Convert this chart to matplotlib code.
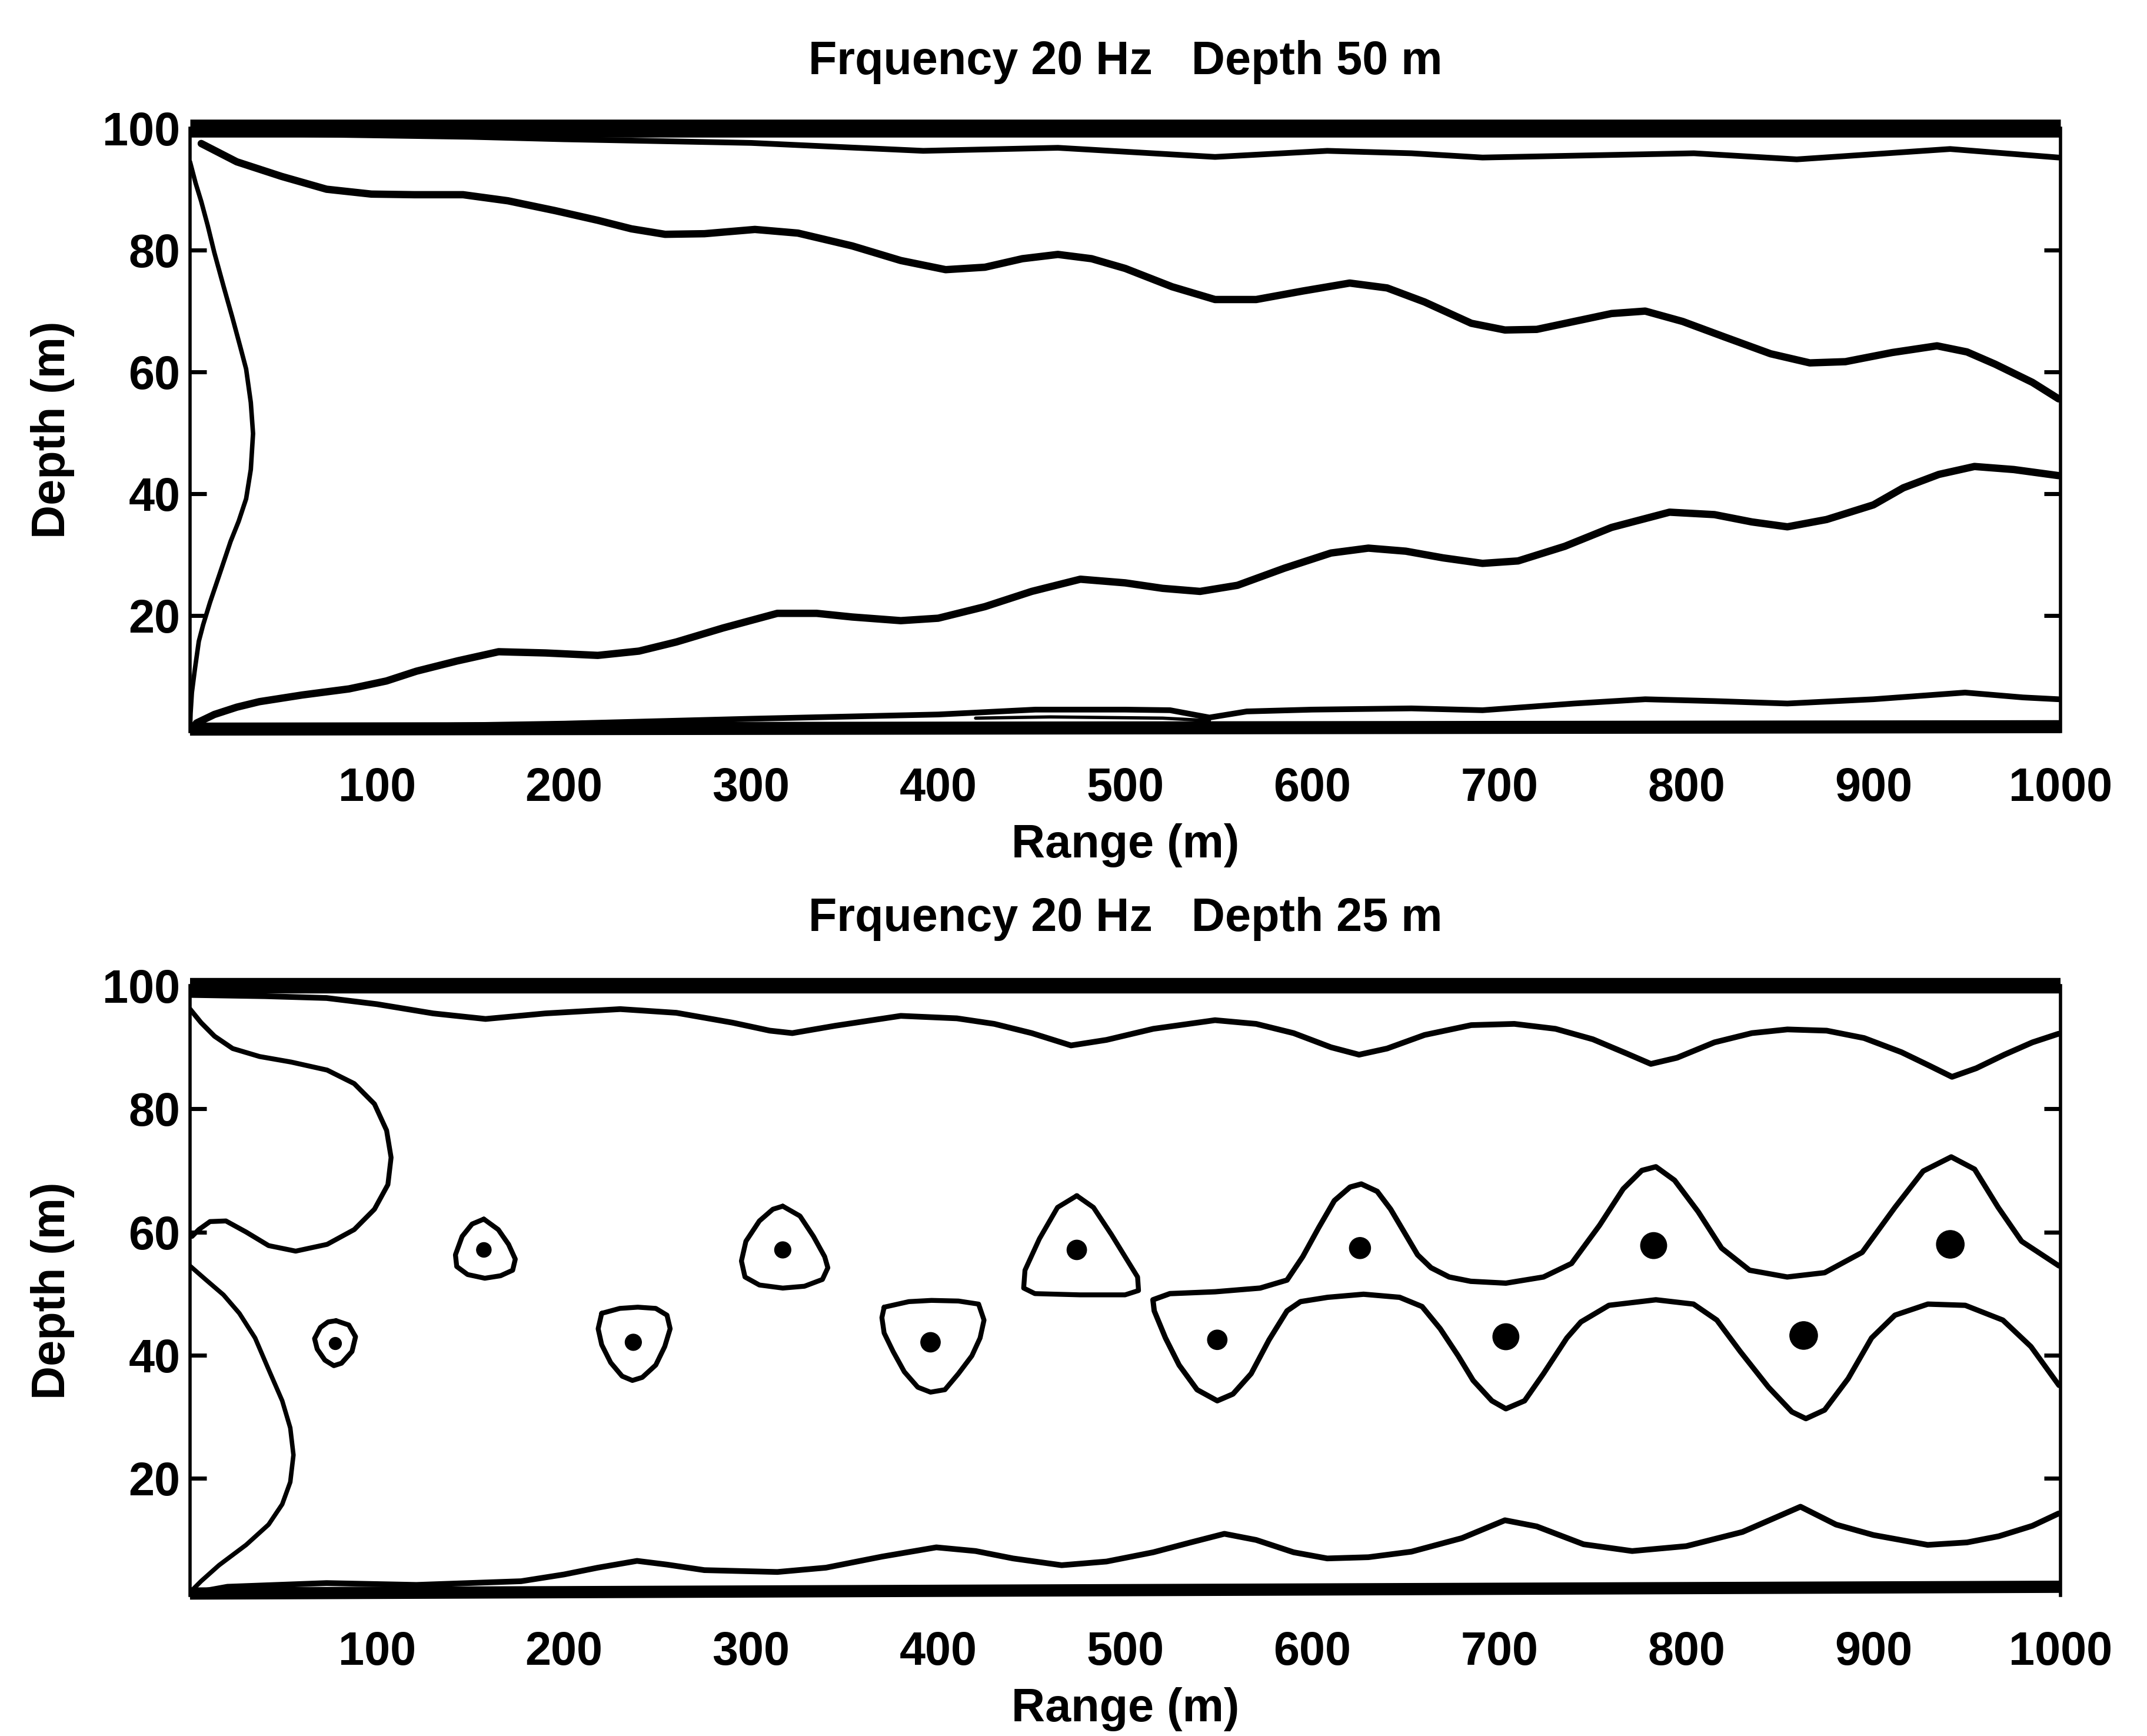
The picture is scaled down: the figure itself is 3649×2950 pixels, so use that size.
import matplotlib
matplotlib.use('Agg')
import matplotlib.pyplot as plt

plt.rcParams['font.family'] = ['Liberation Sans', 'DejaVu Sans']
plt.rcParams['font.weight'] = 'bold'

# ---------------- data ----------------
x_ticks = [100, 200, 300, 400, 500, 600, 700, 800, 900, 1000]
x_tick_labels = ['100', '200', '300', '400', '500', '600', '700', '800', '900', '1000']
y_ticks = [20, 40, 60, 80, 100]
y_tick_labels = ['20', '40', '60', '80', '100']

title_top = 'Frquency 20 Hz   Depth 50 m'
title_bot = 'Frquency 20 Hz   Depth 25 m'

# Top panel (source depth 50 m)
top_band_x = [0, 1000]
top_band_y = [100, 100]
top_floor_x = [0, 1000]
top_floor_y = [1.4, 1.8]

top_c_x = [0, 150, 200, 300, 392, 464, 548, 608, 653, 691, 804, 859, 941, 999]
top_c_y = [99.3, 98.6, 98.2, 97.6, 96.3, 96.8, 95.3, 96.3, 95.9, 95.2, 95.9, 94.9, 96.6, 95.2]

top_a_x = [6, 25, 49, 73, 97, 120, 146, 170, 195, 218, 236, 254, 275, 302, 325, 354, 380, 404,
           425, 445, 464, 482, 500, 525, 548, 570, 595, 620, 640, 660, 685, 703, 720, 740,
           760, 778, 798, 820, 845, 866, 885, 910, 934, 950, 965, 985, 999]
top_a_y = [97.5, 94.5, 92.1, 90.0, 89.2, 89.1, 89.1, 88.1, 86.5, 84.9, 83.5, 82.6, 82.7, 83.4, 82.8, 80.7, 78.3, 76.8,
           77.2, 78.6, 79.3, 78.6, 77.0, 74.0, 71.9, 71.9, 73.3, 74.6, 73.8, 71.5, 68.0, 66.9, 67.0, 68.3,
           69.6, 70.0, 68.3, 65.8, 63.0, 61.5, 61.7, 63.2, 64.3, 63.3, 61.3, 58.3, 55.6]

top_b_x = [0, 3.5, 13, 25, 37, 60, 85, 105, 121, 143, 165, 190, 218, 240, 260, 285, 314, 335,
           354, 380, 400, 425, 450, 476, 500, 520, 540, 560, 585, 610, 630, 650, 670, 691, 710,
           735, 760, 791, 815, 835, 854, 875, 900, 916, 935, 954, 975, 999]
top_b_y = [1.0, 2.4, 3.8, 5.0, 5.9, 7.0, 8.0, 9.3, 10.9, 12.6, 14.1, 13.9, 13.5, 14.2, 15.7, 18.0, 20.4, 20.4,
           19.8, 19.2, 19.6, 21.5, 24.0, 26.0, 25.4, 24.5, 24.0, 25.0, 27.8, 30.3, 31.1, 30.6, 29.5, 28.6, 29.0,
           31.4, 34.5, 37.0, 36.6, 35.4, 34.6, 35.8, 38.2, 41.0, 43.2, 44.5, 44.0, 43.0]

top_bulge_x = [0, 3, 6, 9.5, 13, 18, 22.6, 27, 30, 32.5, 33.7, 32.5, 30, 26, 21.7, 16, 10.7, 7,
               4.7, 2.5, 1, 0.3, 0]
top_bulge_y = [94.5, 91, 88, 84, 79.6, 74, 69, 64, 60.5, 55, 49.9, 44, 39.2, 35.5, 32.2, 27, 22.2, 18.5,
               15.8, 11, 7.4, 4, 1.0]

top_d_x = [0, 100, 200, 300, 400, 452, 500, 524, 545, 565, 600, 653, 691, 740, 778, 815, 854, 900,
           949, 980, 999]
top_d_y = [1.3, 1.8, 2.3, 3.1, 3.8, 4.6, 4.6, 4.5, 3.3, 4.3, 4.6, 4.8, 4.5, 5.6, 6.3, 6.0, 5.6, 6.3,
           7.4, 6.6, 6.3]

top_e_x = [420, 460, 520, 545]
top_e_y = [3.2, 3.4, 3.2, 2.8]

# Bottom panel (source depth 25 m)
bot_band_x = [0, 1000]
bot_band_y = [100, 100]
bot_floor_x = [0, 1000]
bot_floor_y = [1.3, 2.4]

bot_f_x = [0, 40, 73, 100, 130, 158, 190, 230, 260, 290, 310, 322, 345, 380, 410, 430, 450, 471,
           490, 515, 548, 570, 590, 610, 625, 640, 660, 685, 708, 730, 750, 768, 781, 795, 815,
           835, 854, 875, 895, 915, 930, 942, 955, 970, 985, 999]
bot_f_y = [98.5, 98.3, 98.0, 97.0, 95.5, 94.6, 95.5, 96.2, 95.6, 94.0, 92.7, 92.3, 93.5, 95.1, 94.7, 93.8, 92.3, 90.3,
           91.2, 93.0, 94.4, 93.8, 92.3, 90.0, 88.8, 89.8, 92.0, 93.6, 93.8, 93.0, 91.3, 89.0, 87.3, 88.3, 90.8,
           92.3, 92.9, 92.7, 91.5, 89.2, 87.0, 85.2, 86.6, 88.8, 90.8, 92.2]

bot_g_x = [0, 5.9, 13.1, 22.8, 37.2, 54.1, 73.3, 87.8, 98.6, 105.1, 107.5, 105.8, 98.6, 87.8,
           73.3, 56.5, 42.0, 30.0, 19.2, 10.7, 4.7, 1.1]
bot_g_y = [96.2, 94.0, 91.8, 89.8, 88.5, 87.6, 86.3, 84.1, 80.8, 76.5, 72.1, 67.7, 63.7, 60.4,
           58.0, 56.9, 57.8, 60.0, 61.8, 61.7, 60.4, 59.3]

bot_h_x = [0, 8.3, 17.9, 26.4, 34.8, 42.0, 49.3, 53.6, 55.3, 53.6, 49.3, 42.0, 30.0, 15.5, 5.9, 0]
bot_h_y = [54.5, 52.3, 49.8, 46.8, 42.8, 37.7, 32.6, 28.2, 23.8, 19.4, 15.8, 12.5, 9.2, 5.9, 3.3, 1.5]

bot_i_x = [0, 20, 73, 121, 177, 200, 218, 239, 255, 275, 314, 340, 370, 399, 420, 440, 466, 490,
           515, 535, 553, 570, 590, 608, 630, 653, 680, 703, 720, 745, 771, 800, 830, 861, 880,
           900, 929, 950, 967, 985, 999]
bot_i_y = [1.3, 2.4, 3.0, 2.7, 3.3, 4.4, 5.5, 6.6, 6.0, 5.1, 4.8, 5.5, 7.3, 8.8, 8.2, 7.0, 5.9, 6.5,
           8.0, 9.6, 11.0, 10.0, 8.0, 7.0, 7.2, 8.1, 10.3, 13.2, 12.2, 9.3, 8.2, 9.0, 11.3, 15.4, 12.5,
           10.8, 9.2, 9.6, 10.6, 12.3, 14.3]

# closed contours (range, depth)
loop1_x = [78.1, 84.9, 88.5, 86.6, 81.0, 76.9, 72.1, 68.0, 66.6, 69.7, 73.8, 78.1]
loop1_y = [45.6, 44.9, 43.0, 40.6, 38.7, 38.3, 39.2, 41.0, 42.7, 44.5, 45.4, 45.6]
loop2_x = [157.1, 164.8, 170.3, 173.9, 172.5, 166.0, 157.6, 148.4, 142.6, 141.9, 145.5, 150.8, 157.1]
loop2_y = [62.1, 60.4, 58.0, 55.6, 53.8, 52.9, 52.5, 53.1, 54.4, 56.3, 59.3, 61.3, 62.1]
loop3_x = [220.1, 229.8, 239.4, 249.0, 255.0, 256.7, 253.8, 249.0, 241.8, 236.5, 231.0, 224.9, 220.1, 218.2, 220.1]
loop3_y = [46.8, 47.6, 47.8, 47.6, 46.5, 44.3, 41.4, 38.4, 36.4, 35.9, 36.6, 38.8, 41.7, 44.3, 46.8]
loop4_x = [316.9, 326.1, 333.3, 339.3, 341.0, 338.1, 328.5, 316.9, 304.4, 296.7, 294.8, 297.2, 304.4, 311.6, 316.9]
loop4_y = [64.2, 62.6, 59.3, 56.0, 54.2, 52.3, 51.2, 50.9, 51.4, 52.7, 55.3, 58.5, 61.8, 63.7, 64.2]
loop5_x = [371.1, 384.3, 396.4, 410.8, 421.6, 424.5, 422.4, 418.0, 410.8, 403.6, 395.9, 389.1, 381.9,
           375.9, 371.1, 369.9, 371.1]
loop5_y = [47.8, 48.7, 48.9, 48.8, 48.3, 45.7, 42.8, 39.9, 37.0, 34.4, 34.0, 34.8, 37.3,
           40.6, 43.6, 46.1, 47.8]
loop6_x = [474.1, 483.0, 492.6, 499.9, 506.6, 507.1, 499.9, 475.8, 451.7, 445.7, 446.4, 454.1, 463.8, 474.1]
loop6_y = [65.9, 64.0, 59.6, 56.0, 52.7, 50.5, 49.8, 49.8, 50.0, 50.9, 53.8, 58.9, 64.0, 65.9]

# open contour: upper branch (right edge -> tip near 515 m), then lower branch back to right edge
wave_upper_x = [999.2, 979.2, 966.7, 954.1, 941.6, 926.6, 911.5, 894.0, 873.9, 853.9, 833.8, 818.8,
                806.3, 793.7, 783.7, 776.2, 766.2, 753.6, 738.6, 723.6, 703.5, 684.7, 673.2, 663.5,
                656.3, 649.1, 641.9, 634.7, 626.2, 620.2, 611.8, 603.4, 594.9, 586.5, 572.1, 548.0,
                523.9, 514.8]
wave_upper_y = [54.5, 58.5, 64.0, 70.2, 72.2, 69.9, 64.0, 56.7, 53.4, 52.7, 53.8, 57.4,
                63.3, 68.4, 70.6, 70.0, 67.0, 61.1, 54.9, 52.7, 51.7, 52.0, 52.7, 54.2,
                56.3, 60.0, 63.7, 66.6, 67.8, 67.3, 65.1, 60.7, 56.0, 52.2, 50.9, 50.3,
                50.0, 49.0]
wave_lower_x = [515.5, 521.5, 528.8, 538.4, 549.2, 557.6, 567.3, 576.9, 586.5, 593.7, 608.2, 627.4,
                646.7, 658.7, 668.4, 678.0, 686.0, 696.0, 703.5, 713.5, 723.6, 736.1, 743.6, 758.6,
                783.7, 803.8, 816.3, 828.8, 843.9, 856.4, 863.9, 873.9, 886.5, 899.0, 911.5, 929.1,
                949.1, 969.2, 984.2, 999.2]
wave_lower_y = [47.2, 42.8, 38.4, 34.4, 32.6, 33.7, 37.0, 42.5, 47.2, 48.7, 49.4, 49.9,
                49.4, 47.9, 44.3, 39.9, 35.9, 32.6, 31.3, 32.6, 37.0, 42.8, 45.4, 48.1,
                49.0, 48.3, 45.7, 40.6, 34.8, 30.8, 29.7, 31.1, 36.2, 42.8, 46.5, 48.3,
                48.1, 45.7, 41.4, 35.1]

dot_x = [77.7, 157.1, 237.0, 316.9, 395.9, 474.1, 549.2, 625.5, 703.5, 782.5, 862.7, 941.1]
dot_y = [41.9, 57.1, 42.1, 57.1, 42.1, 57.1, 42.5, 57.4, 43.0, 57.8, 43.2, 58.0]

# ---------------- styling ----------------
FS = 57
dot_diam_pt = [15, 18, 20, 20, 24, 24, 24, 26, 32, 32, 34, 34]

fig = plt.figure(figsize=(36.49, 29.50), dpi=100)
ax1 = fig.add_axes([0.0885, 0.5786, 0.8712, 0.3475])
ax2 = fig.add_axes([0.0885, 0.0810, 0.8712, 0.3512])


def style(ax, title, title_pad):
    ax.set_xlim(0, 1000)
    ax.set_ylim(1, 100)
    ax.set_xticks(x_ticks)
    ax.set_xticklabels(x_tick_labels)
    ax.set_yticks(y_ticks)
    ax.set_yticklabels(y_tick_labels)
    ax.tick_params(axis='y', direction='in', length=20, width=5, left=True, right=True,
                   pad=12, labelsize=FS)
    ax.tick_params(axis='x', length=0, pad=43, labelsize=FS)
    ax.spines['top'].set_visible(False)
    ax.spines['bottom'].set_visible(False)
    ax.spines['left'].set_linewidth(4)
    ax.spines['right'].set_linewidth(4)
    ax.set_title(title, pad=title_pad, fontsize=FS, fontweight='bold')
    ax.set_xlabel('Range (m)', fontsize=FS, fontweight='bold', labelpad=15)
    ax.set_ylabel('Depth (m)', fontsize=FS, fontweight='bold')
    ax.yaxis.set_label_coords(-0.0617, 0.5)
    for lab in ax.get_xticklabels() + ax.get_yticklabels():
        lab.set_fontweight('bold')


kw = dict(color='black', solid_joinstyle='round', solid_capstyle='round')

# top panel
ax1.plot(top_band_x, top_band_y, color='black', lw=22, solid_capstyle='butt', clip_on=False)
ax1.plot(top_floor_x, top_floor_y, color='black', lw=16, solid_capstyle='butt', clip_on=False)
ax1.plot(top_c_x, top_c_y, lw=7, **kw)
ax1.plot(top_a_x, top_a_y, lw=9, **kw)
ax1.plot(top_b_x, top_b_y, lw=9, **kw)
ax1.plot(top_bulge_x, top_bulge_y, lw=5.5, **kw)
ax1.plot(top_d_x, top_d_y, lw=7, **kw)
ax1.plot(top_e_x, top_e_y, lw=4, **kw)
style(ax1, title_top, 66)

# bottom panel
ax2.plot(bot_band_x, bot_band_y, color='black', lw=19, solid_capstyle='butt', clip_on=False)
ax2.plot(bot_floor_x, bot_floor_y, color='black', lw=15, solid_capstyle='butt', clip_on=False)
ax2.plot(bot_f_x, bot_f_y, lw=7, **kw)
ax2.plot(bot_g_x, bot_g_y, lw=6, **kw)
ax2.plot(bot_h_x, bot_h_y, lw=5.5, **kw)
ax2.plot(bot_i_x, bot_i_y, lw=7, **kw)
for lx, ly in [(loop1_x, loop1_y), (loop2_x, loop2_y), (loop3_x, loop3_y),
               (loop4_x, loop4_y), (loop5_x, loop5_y), (loop6_x, loop6_y)]:
    ax2.plot(lx, ly, lw=6, **kw)
ax2.plot(wave_upper_x + wave_lower_x, wave_upper_y + wave_lower_y, lw=6.5, **kw)
ax2.scatter(dot_x, dot_y, s=[d * d for d in dot_diam_pt], color='black', zorder=3)
style(ax2, title_bot, 67)

fig.savefig('out.png', dpi=100, facecolor='white')
